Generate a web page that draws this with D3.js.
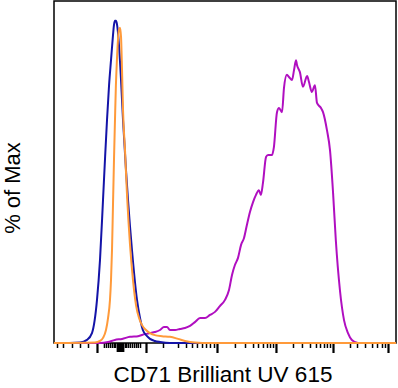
<!DOCTYPE html>
<html>
<head>
<meta charset="utf-8">
<script src="https://cdn.jsdelivr.net/npm/d3@7"></script>
<style>
  body { margin: 0; background: #fff; }
</style>
</head>
<body>
<script>
// channel units (0-1000 display scale) and % of max
var blueX = [0, 17.5, 76, 96.5, 111, 125.7, 134.5, 143.3, 149, 155, 161, 166.7, 172.5, 175.4, 178.3, 181, 184, 190, 196, 201.8, 210.5, 216.4, 228, 242.7, 251.5, 259.8, 272, 280.7, 295, 310, 339, 1000];
var blueY = [0, 0, 0.15, 0.9, 2.9, 12.6, 24.3, 41.8, 53.5, 65.2, 75.4, 82.7, 90, 93, 94.2, 94.2, 93.3, 87.1, 76.9, 65.2, 50.6, 41.8, 27.2, 12.6, 7.3, 3.8, 2.0, 1.2, 0.6, 0.3, 0, 0];

var orangeX = [0, 120, 134.5, 143.3, 152, 158, 163.7, 166.7, 169.6, 172.5, 175.4, 178.3, 181, 184, 187, 190, 193, 196, 198.9, 201.8, 207.6, 213.5, 222.3, 231, 239.8, 248.6, 257, 269, 280.7, 295, 315.8, 339, 362.6, 383, 412, 456, 1000];
var orangeY = [0, 0.15, 0.6, 1.5, 3.8, 7.3, 12.6, 18.4, 27.2, 40.4, 53.5, 65.2, 75.4, 82.7, 88.6, 91.5, 92.2, 89.5, 79.8, 68.1, 56.4, 43.3, 28.7, 18.4, 11.1, 7.3, 5.3, 3.8, 2.9, 2.3, 2.0, 1.8, 1.2, 0.6, 0.15, 0, 0];

var purpleX = [0, 134.5, 158, 178, 199, 222, 245.6, 266, 280.7, 295, 310, 321.6, 330.4, 339, 354, 368, 383, 397.7, 412, 427, 441.5, 456, 470.8, 485, 500, 511.7, 520.5, 529, 538, 547, 555.6, 564, 573, 582, 590.6, 599, 605, 611, 620, 625.8, 637.5, 643, 652, 658, 666.7, 672.5, 681, 687, 696, 701.8, 707.6, 710.5, 719, 728, 740, 745.6, 754, 763, 769, 780.7, 786.6, 798, 807, 816, 824, 836, 848, 859.6, 871, 889, 1000];
var purpleY = [0, 0, 0.3, 0.9, 1.2, 1.8, 2.0, 2.6, 2.9, 3.2, 3.8, 4.7, 4.7, 3.8, 3.8, 4.1, 4.4, 5.0, 6.1, 7.3, 7.3, 8.2, 9.1, 10.8, 12.6, 15.5, 19.9, 22.8, 24.9, 28.7, 30.7, 34.5, 38.3, 41.2, 43.3, 44.7, 43.3, 46.8, 54.4, 55, 55, 57.3, 67.5, 68.7, 67.5, 74.6, 78.4, 77.8, 76.9, 79.8, 82.7, 81.3, 79.2, 74.9, 78.1, 76.3, 73.4, 75.4, 70.2, 68.7, 67.5, 62.3, 56.4, 43.9, 30.1, 15.5, 6.7, 2.9, 0.9, 0, 0];

var majorTicks = [125.7, 269, 476.6, 649, 815.8, 976.6];
var zeroTicks = [184, 187, 190, 193, 196, 199, 202];
var minorTicks = [8.8, 26.3, 52.6, 76, 99.4, 146, 152, 158, 164, 169.6, 175, 178.4, 207.6, 211, 216.4, 222, 228, 234, 239.8, 245, 251.5,
  318.7, 362.6, 386, 403.5, 418, 432.8, 444.5, 456, 467.8,
  529, 558.5, 582, 596.5, 611, 622.8, 631.6, 640.4,
  698.8, 725, 748.5, 766, 777.8, 789.5, 798, 807,
  865.5, 886, 909.4, 930, 944.5, 959, 967.8];

var outerWidth = 398;
var outerHeight = 388;
var margin = { top: 1, right: 2, bottom: 45, left: 54 };
var width = outerWidth - margin.left - margin.right;
var height = outerHeight - margin.top - margin.bottom;

var svg = d3.select("body").append("svg")
  .attr("width", outerWidth)
  .attr("height", outerHeight);

var g = svg.append("g")
  .attr("transform", "translate(" + margin.left + "," + margin.top + ")");

var xScale = d3.scaleLinear().domain([0, 1000]).range([0, width]);
var yScale = d3.scaleLinear().domain([0, 100]).range([height, 0]);

function tickRow(values, size, sw) {
  g.append("g")
    .attr("transform", "translate(0," + height + ")")
    .call(d3.axisBottom(xScale).tickValues(values).tickSize(size).tickFormat(""))
    .call((a) => a.select(".domain").remove())
    .selectAll("line").attr("stroke", "#000").attr("stroke-width", sw);
}
tickRow(minorTicks, 5, 1.5);
tickRow(zeroTicks, 9, 1.6);
tickRow(majorTicks, 10, 2.2);

// frame
g.append("rect")
  .attr("x", 0).attr("y", 0)
  .attr("width", width).attr("height", height)
  .attr("fill", "none")
  .attr("stroke", "#000")
  .attr("stroke-width", 1.5);

var line = d3.line()
  .x((d) => xScale(d[0]))
  .y((d) => yScale(d[1]))
  .curve(d3.curveMonotoneX);

var series = [
  { name: "purple", xs: purpleX, ys: purpleY, color: "#b00fc0" },
  { name: "blue", xs: blueX, ys: blueY, color: "#1414a8" },
  { name: "orange", xs: orangeX, ys: orangeY, color: "#ff9a3a" }
];

g.selectAll(".line-path")
  .data(series)
  .enter()
  .append("path")
  .attr("class", "line-path")
  .attr("d", (d) => line(d.xs.map((x, i) => [x, d.ys[i]])))
  .attr("fill", "none")
  .attr("stroke", (d) => d.color)
  .attr("stroke-width", 2)
  .attr("stroke-linejoin", "round");

// axis labels
svg.append("text")
  .attr("x", 223)
  .attr("y", 382)
  .attr("text-anchor", "middle")
  .attr("font-family", "Liberation Sans, Arial, sans-serif")
  .attr("font-size", 22.5)
  .text("CD71 Brilliant UV 615");

svg.append("text")
  .attr("transform", "translate(20," + (margin.top + height / 2 + 16) + ") rotate(-90)")
  .attr("text-anchor", "middle")
  .attr("font-family", "Liberation Sans, Arial, sans-serif")
  .attr("font-size", 22)
  .text("% of Max");
</script>
</body>
</html>
